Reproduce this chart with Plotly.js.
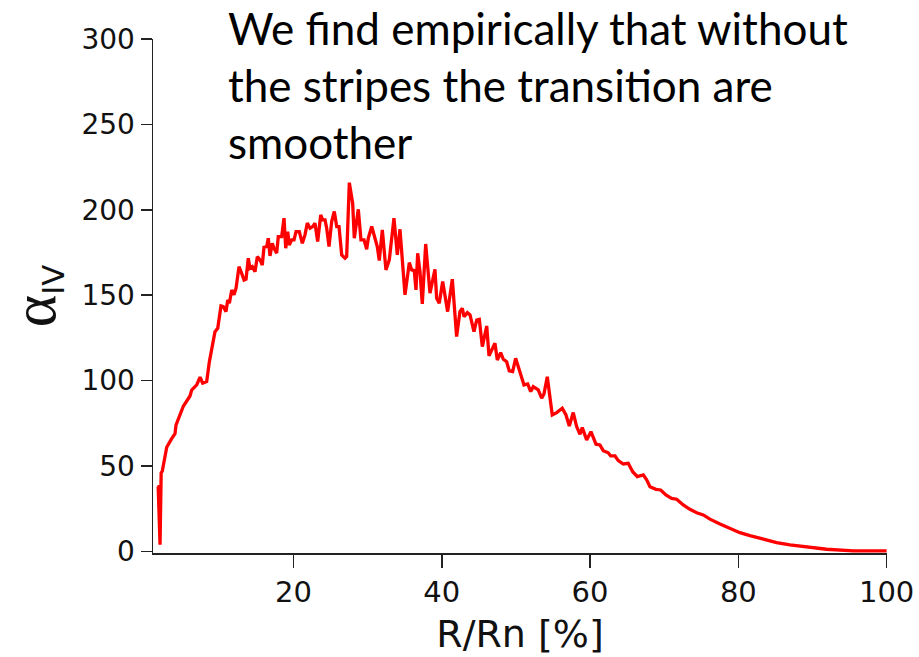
<!DOCTYPE html>
<html>
<head>
<meta charset="utf-8">
<script src="https://cdn.plot.ly/plotly-3.0.1.min.js"></script>
<style>html,body{margin:0;padding:0;background:#fff;}#chart{width:919px;height:657px;}</style>
</head>
<body>
<div id="chart"></div>
<script>
const rRn = [1.65,1.75,2.0,2.15,2.3,2.9,3.57,4.02,4.15,4.69,5.14,6.04,6.27,6.95,7.39,7.75,8.29,8.65,9.18,9.41,9.78,10.22,10.53,10.9,11.13,11.35,11.67,11.98,12.25,12.65,13.0,13.33,13.6,13.9,14.13,14.45,14.81,15.12,15.48,15.79,16.02,16.39,16.6,16.83,17.14,17.37,17.73,17.95,18.4,18.72,18.95,19.22,19.43,19.76,20.07,20.34,20.78,21.19,21.55,21.86,22.23,22.59,22.9,23.26,23.67,23.94,24.25,24.48,24.79,25.15,25.5,25.83,26.14,26.5,26.95,27.17,27.53,27.98,28.2,28.74,29.1,29.51,29.87,30.09,30.55,30.99,31.3,31.57,31.98,32.47,32.92,33.55,34.0,34.36,35.04,35.62,35.94,36.29,36.52,36.75,37.06,37.37,37.83,38.41,39.08,39.31,39.66,40.12,40.43,40.79,41.42,42.0,42.45,42.77,43.0,43.45,43.81,44.34,44.71,45.06,45.47,46.06,46.37,47.17,47.49,47.94,48.3,48.75,49.1,49.56,49.96,50.55,51.09,51.59,51.99,52.34,53.01,53.47,53.78,54.23,54.9,55.5,56.25,56.75,57.2,57.73,58.19,58.64,58.95,59.54,60.12,60.8,61.33,61.78,62.45,62.78,63.36,63.81,64.48,65.15,65.75,66.37,67.18,67.63,68.08,68.89,69.52,70.23,71.0,71.68,72.57,73.47,74.38,75.27,76.17,77.52,78.87,80.21,81.56,83.36,85.16,86.96,89.66,91.9,95.5,100];
const alphaIV = [38,38,4,46,47,61,66,69,74,80,85,91,94.5,97.5,102,98.5,99.4,111,122,128.7,130.7,143.7,143.3,140.4,147.2,145.3,153.1,150.2,154.1,166.7,162.9,158.9,159.4,171.7,165.8,166.7,163.8,172.6,170.7,167.7,178.1,178.5,183.4,173,180.4,177.5,174.6,184.3,184.3,195.1,177.5,187.2,179.4,182.4,182.4,187.2,187.2,180.4,185.3,192.2,189.2,190.2,192.2,181.4,197,194.1,194.1,189.2,178.5,193.1,199,190.2,190.2,173.6,171.7,172.6,215.9,203.9,183.4,200.3,182.4,182.4,176.9,183.4,190.2,183.4,178.5,170.3,188.2,164.8,170.7,195.1,173.6,188.6,150.2,169.1,164.8,164.4,153.1,174.6,163.8,144.9,180,151.2,165.2,148.2,145.3,158,149.2,140.4,159.4,125.8,140.4,142.4,137.5,139.8,138.5,128.7,135.5,135.9,119.9,132,114.5,121.9,112.1,116.4,112.5,111.1,105.7,105.3,113.1,105.3,97.5,98.1,93.6,96.5,94.6,89.7,92.2,102.3,79.9,81.3,83.8,79.9,73.5,81.3,73.1,68.6,72.5,65.3,70.1,62.8,62.4,59,57.8,55.9,55.9,53.2,51.2,51.6,46.7,43.8,44.8,41.9,37.9,36.4,36,33.1,31.1,30.6,27.2,24.7,22.7,21.4,18.9,16.1,13.6,11,9.3,7.1,5.2,3.8,2.5,1.3,0.3,0.3];
const xTicks = [20,40,60,80,100];
const yTicks = [0,50,100,150,200,250,300];
const noteText = "We find empirically that without<br>the stripes the transition are<br>smoother";

const trace = {
  x: rRn, y: alphaIV, type: 'scatter', mode: 'lines',
  line: {color: '#ff0000', width: 3.3}, hoverinfo: 'skip'
};
const axisFont = {family: 'DejaVu Sans, Verdana, sans-serif', color: '#111'};
const layout = {
  width: 919, height: 657,
  margin: {l: 153, r: 32, t: 39, b: 104, pad: 0},
  paper_bgcolor: '#fff', plot_bgcolor: '#fff',
  showlegend: false,
  xaxis: {
    range: [1.05, 100.05], tickvals: xTicks, ticktext: xTicks.map(String),
    showgrid: false, zeroline: false, showline: true, linecolor: '#222', linewidth: 1.5,
    ticks: 'outside', ticklen: 13, tickwidth: 1.5, tickcolor: '#222',
    tickfont: Object.assign({size: 29}, axisFont),
    title: {text: 'R/Rn [%]', font: Object.assign({size: 38}, axisFont), standoff: 12}
  },
  yaxis: {
    range: [-0.9, 300], tickvals: yTicks, ticktext: yTicks.map(String),
    showgrid: false, zeroline: false, showline: true, linecolor: '#222', linewidth: 1.5,
    ticks: 'outside', ticklen: 11, tickwidth: 1.5, tickcolor: '#222',
    tickfont: Object.assign({size: 28}, axisFont),
    title: {text: '<span style="font-family:Liberation Serif,serif;font-size:62px">α</span><sub>IV</sub>', font: Object.assign({size: 44}, axisFont), standoff: 18}
  },
  annotations: [{
    xref: 'paper', yref: 'paper', x: 0.0995, y: 1.076, xanchor: 'left', yanchor: 'top',
    align: 'left', showarrow: false, text: noteText,
    font: {family: 'Lato, Open Sans, sans-serif', size: 44, color: '#000'}
  }]
};
Plotly.newPlot('chart', [trace], layout, {staticPlot: true, displayModeBar: false});
</script>
</body>
</html>
